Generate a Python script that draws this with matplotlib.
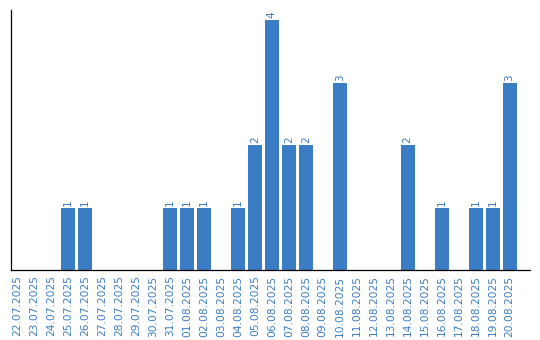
import matplotlib; matplotlib.use('Agg')
import matplotlib.pyplot as plt

dates = ['22.07.2025', '23.07.2025', '24.07.2025', '25.07.2025', '26.07.2025',
         '27.07.2025', '28.07.2025', '29.07.2025', '30.07.2025', '31.07.2025',
         '01.08.2025', '02.08.2025', '03.08.2025', '04.08.2025', '05.08.2025',
         '06.08.2025', '07.08.2025', '08.08.2025', '09.08.2025', '10.08.2025',
         '11.08.2025', '12.08.2025', '13.08.2025', '14.08.2025', '15.08.2025',
         '16.08.2025', '17.08.2025', '18.08.2025', '19.08.2025', '20.08.2025']
counts = [0, 0, 0, 1, 1, 0, 0, 0, 0, 1,
          1, 1, 0, 1, 2, 4, 2, 2, 0, 3,
          0, 0, 0, 2, 0, 1, 0, 1, 1, 3]

BLUE = '#3b7dc4'

fig = plt.figure(figsize=(5.4, 3.4), dpi=100)
ax = fig.add_axes([11/540, 70/340, 519/540, 260/340])

x = range(len(dates))
ax.bar(x, counts, width=0.82, color=BLUE)
for i, v in enumerate(counts):
    if v > 0:
        ax.text(i, v + 0.03, str(v), rotation=90, ha='center', va='bottom',
                color=BLUE, fontsize=7.5)

ax.set_xlim(-0.35, 30.2)
ax.set_ylim(0, 4.16)
ax.set_xticks(list(x))
ax.set_xticklabels(dates, rotation=90, color=BLUE, fontsize=7.7)
ax.tick_params(axis='x', length=0, pad=4)
ax.set_yticks([])
for s in ['top', 'right']:
    ax.spines[s].set_visible(False)
for s in ['left', 'bottom']:
    ax.spines[s].set_linewidth(0.9)

fig.savefig('out.png', dpi=100)
